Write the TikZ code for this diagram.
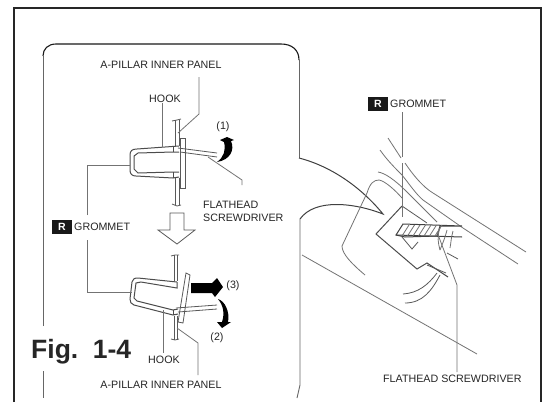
\documentclass[tikz,border=0pt]{standalone}
\usepackage{fontspec}
\setmainfont{Liberation Sans}
\usetikzlibrary{positioning}

\begin{document}
\begin{tikzpicture}[x=1pt,y=-1pt,
    lbl/.style = {inner sep=0pt, font=\fontsize{10.7}{13}\selectfont, text=black!85},
    line/.style = {draw=black!65, line width=0.8pt},
    thin line/.style = {draw=black!55, line width=0.8pt},
    part/.style = {draw=black!70, line width=1pt},
    tag/.style = {fill=black!90, text=white, inner sep=0pt, minimum width=20pt, minimum height=13.5pt, font=\fontsize{10.5}{10.5}\selectfont\bfseries},
    hollow/.style = {draw=black!65, line width=0.8pt, fill=white},
    inset/.style = {draw=black!60, line width=0.9pt}]
    \useasboundingbox (0,0) rectangle (545,402);
    \fill[white] (0,0) rectangle (545,402);

    % outer frame
    \draw[black!85, line width=2.6pt] (14,402) -- (14,8) -- (541,8) -- (541,402);

    % inset
    \draw[inset] (43,326) -- (43,56);
    \draw[inset] (43,371) -- (43,398);
    \draw[black!90, line width=1.1pt] (43,56) .. controls (43,49) and (48,44) .. (56,44) -- (281,44) .. controls (292,44) and (299,50) .. (299,60);
    \draw[inset] (299,60) -- (299,158);
    \draw[black!75, line width=1pt] (299,158) .. controls (330,166) and (360,186) .. (383,214) .. controls (355,203) and (315,198) .. (300,219);
    \draw[inset] (300,219) -- (300,385) -- (297,398);

    % upper clip
    \node[lbl] (panel1) at (161,65) {A-PILLAR INNER PANEL};
    \node[lbl] (hook1) at (165,99) {HOOK};
    \node[lbl] (one) at (223,127) {(1)};
    \node[lbl, align=left, anchor=west] (fsd1) at (203,211.5) {FLATHEAD\\SCREWDRIVER};
    \node[tag] (r1) at (62,227) {R};
    \node[lbl, anchor=west] (grom1) at (74,227) {GROMMET};
    \coordinate (cliptop) at (162,147);
    \coordinate (clipleft) at (130,165);

    \draw[line] (175,146) -- (175,120) (175,205) -- (175,178);
    \draw[line] (179,146) -- (179,120) (179,205) -- (179,178);
    \draw[line] (172,121) -- (177,120) -- (181,119);
    \draw[line] (172,204) -- (177,206) -- (181,205);
    \draw[part] (179,146) -- (137,149) .. controls (132,149) and (130,151) .. (130,155) -- (130,170) .. controls (130,174) and (132,176) .. (136,176) -- (173,178) -- (179,177);
    \draw[part] (179,152) -- (173,152) -- (138,153) -- (134,156) -- (134,169) -- (138,173) -- (173,172) -- (179,172);
    \draw[part] (173,146) -- (173,152) (173,172) -- (173,178);
    \draw[hollow] (180,138) rectangle (185,188);
    \draw[line] (178,148) -- (217,153);
    \draw[line] (180,152) -- (217,157);

    \draw[thin line] (hook1.south -| cliptop) -- (cliptop);
    \draw[thin line] (199,77) -- (199,114) -- (178,133);
    \draw[thin line] (242,185) -- (242,180) -- (208,157);
    \draw[thin line] (87,215) -- (87,165) -- (clipleft);

    \fill[black] (227,137) -- (234,140) -- (231,141) .. controls (235,150) and (230,160) .. (217,162) .. controls (224,157) and (226,150) .. (224,142) -- (220,140) -- cycle;

    % arrow down
    \draw[hollow] (170,213) -- (184,213) -- (184,230) -- (195,230) -- (177,244) -- (158,230) -- (170,230) -- cycle;

    % lower clip
    \node[lbl] (hook2) at (164,360) {HOOK};
    \node[lbl] (panel2) at (161,385) {A-PILLAR INNER PANEL};
    \node[lbl] (three) at (233,286) {(3)};
    \node[lbl] (two) at (217,338) {(2)};
    \node[font=\fontsize{26.5}{26.5}\selectfont\bfseries, inner sep=0pt, anchor=west, text=black!85] (fig) at (31,352) {Fig.\hspace{0.55em}1-4};

    \draw[line] (174,255) -- (174,281) (177,255) -- (177,281);
    \draw[line] (174,316) -- (174,340) (177,316) -- (177,340);
    \draw[line] (171,256) -- (175,255) -- (179,255);
    \draw[line] (171,339) -- (175,340) -- (179,339);
    \draw[part] (177,282) -- (138,278) .. controls (134,278) and (133,279) .. (132,282) -- (130,299) .. controls (130,302) and (131,304) .. (134,305) -- (173,315) -- (178,314);
    \draw[part] (177,282) -- (177,288) -- (141,282) -- (136,283) -- (134,298) -- (137,301) -- (173,310) -- (178,309);
    \draw[part] (173,310) -- (173,315);
    \draw[hollow] (186,273) -- (190,275) -- (183,323) -- (178,322) -- cycle;
    \draw[line] (176,308) -- (217,305) (178,312) -- (217,309);

    \fill[black] (191,283) -- (212,283) -- (217,278) -- (223,287) -- (215,297) -- (212,293) -- (191,293) -- cycle;
    \fill[black] (218,299) .. controls (225,301) and (230,312) .. (228,322) -- (231,322) -- (222,328) -- (217,322) -- (222,322) .. controls (225,313) and (223,305) .. (218,299);

    \draw[thin line] (163,310) -- (163,353);
    \draw[thin line] (198,375) -- (198,343) -- (177,328);
    \draw[thin line] (87,240) -- (87,292) -- (132,292);

    % right view
    \node[tag] (r2) at (378,104) {R};
    \node[lbl, anchor=west] (grom2) at (390,104) {GROMMET};
    \node[lbl, anchor=west] (fsd2) at (383,379) {FLATHEAD SCREWDRIVER};
    \coordinate (gromtip) at (402,217);
    \coordinate (fsdtip) at (437,232);

    \draw[thin line] (388,138) -- (401,158);
    \draw[thin line] (405,163) .. controls (413,175) and (423,187) .. (433,193) -- (526,252);
    \draw[thin line] (380,150) .. controls (387,160) and (395,168) .. (402,175) .. controls (410,185) and (416,194) .. (423,200) -- (463,228) -- (518,264);
    \draw[thin line] (378,172) .. controls (385,173) and (395,180) .. (407,192) -- (437,222);
    \draw[thin line] (365,275) .. controls (352,264) and (342,254) .. (342,246) -- (367,193) .. controls (370,183) and (374,180) .. (379,180) .. controls (385,181) and (395,190) .. (402,198);
    \draw[thin line] (302,255) -- (477,354);
    \draw[part] (402,206) -- (376,234) -- (417,269) -- (427,263) -- (448,277);
    \draw[line] (402,206) -- (427,223);
    \draw[line] (427,265) -- (446,273);
    \draw[line] (403,294) .. controls (418,293) and (428,285) .. (437,273);
    \draw[line] (405,303) .. controls (423,303) and (432,290) .. (440,275);
    \draw[line] (402,237) -- (412,249) -- (418,242);
    \draw[line] (447,253) -- (458,259);

    % screwdriver
    \draw[line width=1pt, black!75, fill=white] (396,235) -- (403,224) -- (462,226) -- (440,226) -- (437,236) -- (405,237) -- cycle;
    \draw[line width=1pt, black!75] (396,235) -- (462,237);
    \foreach \i in {0,...,6} {
      \draw[thin line] (402+\i*5.5,236) -- (409+\i*5.5,225);
    }
    \draw[thin line] (440,228) .. controls (437,236) and (438,243) .. (440,250);
    \draw[thin line] (447,230) .. controls (445,238) and (442,245) .. (440,250);
    \draw[thin line] (453,231) .. controls (451,238) and (451,243) .. (450,248);

    \draw[thin line] (402,112) -- (402,157) (402,163) -- (gromtip);
    \draw[thin line] (fsdtip) -- (457,285) -- (457,372);
\end{tikzpicture}
\end{document}
